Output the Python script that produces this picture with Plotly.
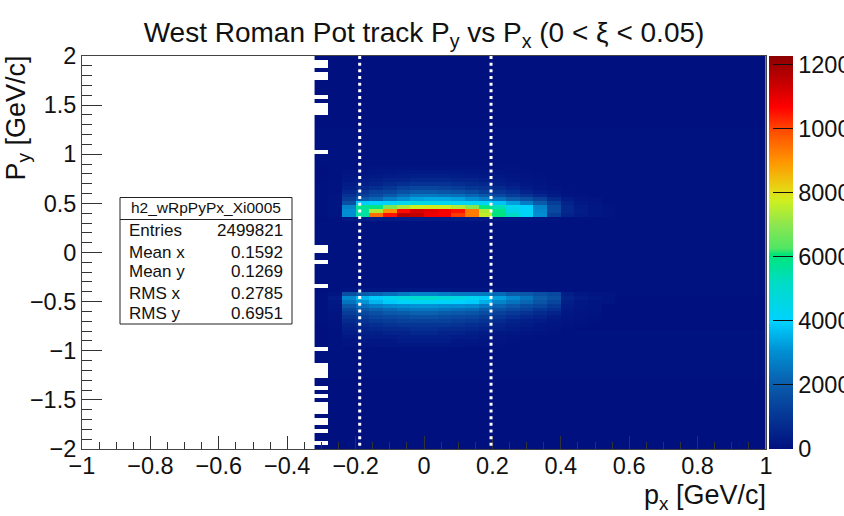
import plotly.graph_objects as go

x_edges = [round(-0.32 + 0.04 * i, 2) for i in range(34)]
y_edges = [round(-2 + 0.04 * i, 2) for i in range(101)]

# per-row low level (row 0 is -2.00..-1.96, row 99 is 1.96..2.00)
row_background = [
    15, 15, 15, 15, 15, 15, 15, 15, 15, 15,
    20, 20, 20, 20, 20, 20, 20, 20, 25, 25,
    25, 25, 25, 30, 30, 35, 40, 50, 60, 70,
    20, 20, 20, 20, 20, 20, 20, 20, 20, 30,
    40, 40, 30, 30, 30, 30, 30, 30, 30, 30,
    30, 30, 30, 30, 30, 30, 30, 30, 30, 30,
    30, 30, 30, 30, 30, 30, 30, 30, 30, 30,
    30, 30, 30, 30, 30, 30, 30, 25, 25, 25,
    25, 25, 20, 20, 20, 20, 20, 20, 15, 15,
    15, 15, 15, 15, 15, 15, 15, 15, 15, 15,
]

# rows with visible intensity: lower edge of the y bin -> counts per x bin, starting at x = -0.32
band_rows = {
    0.84: [10, 30, 60, 80, 100, 120, 130, 140, 140, 140, 130, 120, 100, 90, 70, 60, 50, 40, 30],
    0.80: [15, 40, 100, 130, 160, 200, 230, 260, 260, 250, 230, 190, 160, 120, 90, 70, 50, 40, 30],
    0.76: [20, 50, 150, 200, 250, 300, 350, 400, 400, 400, 350, 300, 250, 200, 150, 100, 80, 50, 40],
    0.72: [20, 60, 200, 300, 400, 500, 500, 600, 600, 600, 500, 500, 400, 300, 200, 150, 100, 60, 40],
    0.68: [25, 70, 300, 400, 500, 700, 800, 900, 900, 900, 800, 700, 600, 400, 300, 200, 150, 80, 50],
    0.64: [25, 80, 400, 600, 800, 1000, 1300, 1400, 1400, 1300, 1200, 1000, 900, 700, 500, 300, 200, 100, 60],
    0.60: [25, 90, 600, 1000, 1300, 1400, 1700, 1900, 1900, 1800, 1700, 1500, 1200, 1000, 800, 500, 300, 200, 80],
    0.56: [30, 100, 900, 1300, 1600, 1900, 2300, 2600, 2600, 2500, 2400, 2200, 1900, 1500, 1200, 900, 600, 300, 120, 80],
    0.52: [30, 110, 1200, 1900, 2200, 2700, 3000, 3300, 3400, 3400, 3300, 3000, 2700, 2400, 2000, 1700, 1300, 700, 300, 150, 100],
    0.48: [30, 120, 1700, 3900, 4000, 4100, 4400, 4600, 4500, 4300, 4200, 4200, 4200, 3800, 3300, 2700, 2000, 1200, 500, 250, 150],
    0.44: [30, 130, 2800, 5800, 5900, 6800, 7300, 7700, 7800, 7700, 7400, 6900, 6000, 5400, 4400, 4000, 2800, 1500, 600, 300, 200, 120],
    0.40: [30, 130, 3000, 5600, 7400, 9000, 10600, 11200, 11000, 10800, 10500, 9300, 7400, 5900, 4500, 4100, 2900, 1500, 600, 350, 200, 130],
    0.36: [30, 130, 3000, 5600, 9500, 10500, 11700, 11500, 10900, 10800, 10100, 9300, 7600, 6000, 5200, 4200, 3000, 1200, 500, 300, 180, 110],
    0.32: [20, 60, 200, 300, 350, 350, 350, 350, 300, 300, 300, 300, 250, 200, 180, 150, 120, 90, 60],
    -0.40: [20, 50, 120, 150, 170, 170, 180, 180, 180, 180, 170, 170, 150, 130, 110, 100, 80, 60, 40],
    -0.44: [30, 120, 1700, 2000, 2200, 2400, 2600, 2800, 2800, 2700, 2600, 2600, 2600, 2300, 2000, 1900, 1700, 1500, 400, 220, 140, 100],
    -0.48: [30, 300, 2900, 3600, 3900, 4300, 4700, 5000, 5000, 4800, 4600, 4300, 3900, 3300, 2900, 2500, 2000, 1700, 500, 300, 180, 120],
    -0.52: [30, 250, 2500, 3100, 3600, 3900, 4100, 4200, 4200, 4100, 4000, 3900, 3500, 2800, 2500, 2200, 1800, 1400, 400, 220, 140, 100],
    -0.56: [30, 200, 1900, 2400, 2700, 2900, 3000, 3100, 3100, 3000, 3000, 2900, 2600, 2200, 1900, 1600, 1400, 1100, 300, 180, 120],
    -0.60: [30, 160, 1500, 1900, 2100, 2300, 2500, 2600, 2600, 2500, 2400, 2300, 2000, 1700, 1500, 1300, 1000, 800, 250, 150, 100],
    -0.64: [25, 130, 1200, 1500, 1700, 1900, 2000, 2100, 2100, 2000, 1900, 1800, 1600, 1300, 1100, 900, 700, 500, 200, 120, 80],
    -0.68: [25, 100, 900, 1200, 1400, 1500, 1600, 1700, 1700, 1600, 1500, 1400, 1200, 1000, 800, 600, 500, 300, 150, 100, 60],
    -0.72: [25, 80, 700, 900, 1100, 1200, 1300, 1300, 1300, 1300, 1200, 1100, 900, 700, 500, 400, 300, 200, 100, 70, 50],
    -0.76: [20, 70, 500, 700, 800, 900, 1000, 1000, 1000, 1000, 900, 800, 700, 500, 400, 300, 200, 150, 80, 50],
    -0.80: [20, 60, 400, 500, 600, 700, 700, 800, 800, 700, 700, 600, 500, 400, 300, 200, 150, 100, 60],
    -0.84: [20, 50, 300, 400, 400, 500, 500, 600, 600, 500, 500, 400, 300, 200, 200, 150, 100, 70, 50],
    -0.88: [20, 40, 200, 300, 300, 300, 400, 400, 400, 400, 300, 300, 200, 150, 100, 80, 60],
    -0.92: [20, 30, 100, 200, 200, 200, 300, 300, 300, 300, 200, 200, 150, 100, 80, 60],
    -0.96: [15, 25, 100, 100, 150, 150, 200, 200, 200, 200, 150, 100, 100, 70, 50],
}

# lower edges of y bins that are empty in the first x bin (-0.32..-0.28)
empty_first_column = [
    1.92, 1.88, 1.80, 1.76, 1.56, 1.48, 1.44, 1.40, 1.00,
    0.04, 0.00, -0.12, -0.36,
    -1.00, -1.16, -1.20, -1.24, -1.28, -1.40, -1.48,
    -1.60, -1.56, -1.64, -1.72, -1.76, -1.84, -1.96,
]

z = [[row_background[r]] * (len(x_edges) - 1) for r in range(100)]
for y_low, values in band_rows.items():
    r = round((y_low + 2) / 0.04)
    z[r] = values + z[r][len(values):]
for y_low in empty_first_column:
    r = round((y_low + 2) / 0.04)
    z[r] = [None] + z[r][1:]

colorscale = [
    [0.00, "#00107f"], [0.16, "#0a5aaa"], [0.25, "#0090d4"], [0.325, "#00d2ff"],
    [0.42, "#00dcc8"], [0.495, "#00e678"], [0.51, "#50e664"], [0.57, "#8ce650"],
    [0.63, "#ccf020"], [0.66, "#e6d814"], [0.73, "#ff9600"], [0.81, "#ff4b00"],
    [0.87, "#ff0000"], [0.93, "#c80000"], [1.00, "#8c0000"],
]
z_ticks = [0, 2000, 4000, 6000, 8000, 10000, 12000]

W, H = 844, 516
L, R, T, B = 82, 766, 56, 449
FONT = "Liberation Sans"

def px(v):
    return (v - L) / (R - L)

def py(v):
    return (B - v) / (B - T)

fig = go.Figure(go.Heatmap(
    x=x_edges, y=y_edges, z=z, zmin=0, zmax=12280, colorscale=colorscale,
    hoverongaps=False, xgap=0, ygap=0,
    colorbar=dict(
        xref="container", x=769 / W, xanchor="left", xpad=0, ypad=0,
        yref="paper", y=0, yanchor="bottom", len=1, lenmode="fraction",
        thickness=24, thicknessmode="pixels", outlinewidth=0,
        tickvals=z_ticks, ticktext=[str(t) for t in z_ticks],
        ticks="inside", ticklen=20, tickcolor="#111", tickwidth=1,
        tickfont=dict(family=FONT, size=23.5, color="#111"),
    ),
))

axis_common = dict(
    showgrid=False, zeroline=False, showline=True, mirror=True,
    linecolor="#444", linewidth=1, ticks="inside", tickcolor="#333", tickwidth=1,
    tickfont=dict(family=FONT, size=23.5, color="#111"),
)
fig.update_xaxes(range=[-1, 1], tick0=-1, dtick=0.2, ticklen=13, automargin=False,
                 ticklabelstandoff=-4,
                 minor=dict(dtick=0.05, ticks="inside", ticklen=7, tickcolor="#333", tickwidth=1),
                 **axis_common)
fig.update_yaxes(range=[-2, 2], tick0=-2, dtick=0.5, ticklen=20, automargin=False,
                 minor=dict(dtick=0.1, ticks="inside", ticklen=10, tickcolor="#333", tickwidth=1),
                 **axis_common)

# white dotted selection lines
cut_lines = [-0.188, 0.196]
for c in cut_lines:
    fig.add_shape(type="line", x0=c, x1=c, y0=2, y1=-2, xref="x", yref="y", layer="above",
                  line=dict(color="white", width=3, dash="3px,3.67px"))

# statistics box
fig.add_shape(type="rect", xref="paper", yref="paper", layer="above",
              x0=px(120), x1=px(292), y0=py(324), y1=py(197.5),
              fillcolor="white", line=dict(color="#222", width=1))
fig.add_shape(type="line", xref="paper", yref="paper", layer="above",
              x0=px(120), x1=px(292), y0=py(219.5), y1=py(219.5),
              line=dict(color="#222", width=1))

stats_name = "h2_wRpPyPx_Xi0005"
stats_labels = ["Entries", "Mean x", "Mean y", "RMS x", "RMS y"]
stats_values = ["2499821", "0.1592", "0.1269", "0.2785", "0.6951"]
stats_rows = [230.7, 252, 271, 293, 313]

def label(text, x, y, size, xanchor="center", yanchor="middle", angle=0):
    fig.add_annotation(text=text, xref="paper", yref="paper", x=px(x), y=py(y),
                       xanchor=xanchor, yanchor=yanchor, showarrow=False, textangle=angle,
                       font=dict(family=FONT, size=size, color="#111"), borderpad=0, borderwidth=0)

label(stats_name, 206, 207, 15.5)
for name, value, row in zip(stats_labels, stats_values, stats_rows):
    label(name, 129, row, 17, xanchor="left")
    label(value, 283, row, 17, xanchor="right")

label("p<sub>x</sub> [GeV/c]", 766, 497, 27, xanchor="right")
label("P<sub>y</sub> [GeV/c]", 17, 56, 27, yanchor="top", angle=-90)

fig.update_layout(
    width=W, height=H, autosize=False,
    margin=dict(l=L, r=W - R, t=T, b=H - B, pad=0, autoexpand=False),
    paper_bgcolor="white", plot_bgcolor="white",
    showlegend=False,
    title=dict(text="West Roman Pot track P<sub>y</sub> vs P<sub>x</sub> (0 &lt; ξ &lt; 0.05)",
               x=424 / W, xanchor="center", xref="container",
               y=1 - 32 / H, yanchor="middle", yref="container",
               font=dict(family=FONT, size=28, color="#111")),
)

fig.write_html("out.html", config={"displayModeBar": False},
               post_script="document.body.style.margin='0';document.documentElement.style.overflow='hidden';")
